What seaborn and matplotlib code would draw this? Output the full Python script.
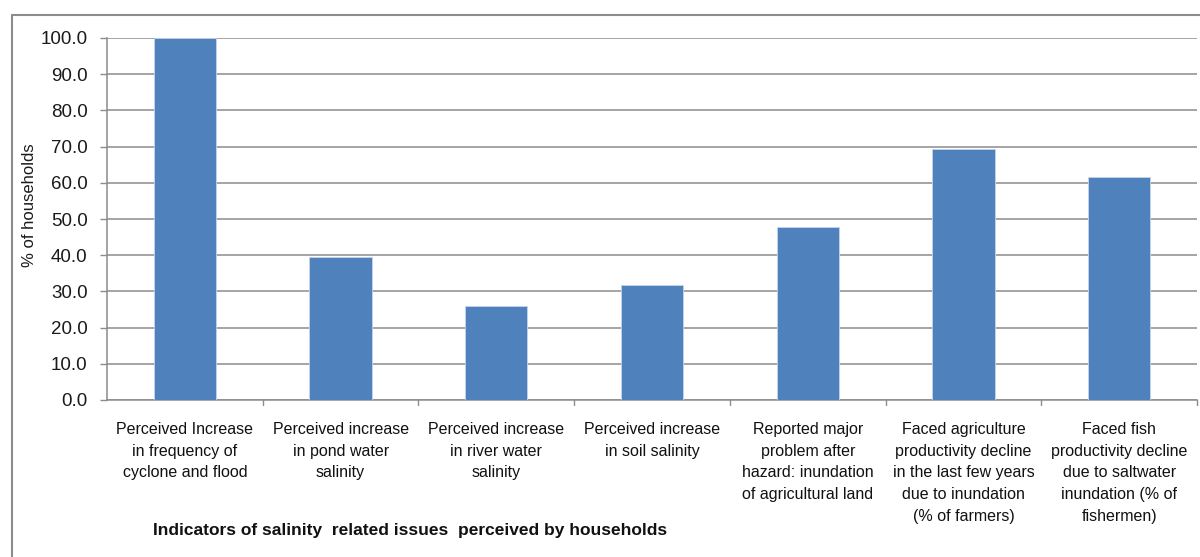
import pandas as pd
import seaborn as sns
import matplotlib.pyplot as plt
from matplotlib.lines import Line2D

# Dados
categories = [
    'Perceived Increase\nin frequency of\ncyclone and flood',
    'Perceived increase\nin pond water\nsalinity',
    'Perceived increase\nin river water\nsalinity',
    'Perceived increase\nin soil salinity',
    'Reported major\nproblem after\nhazard: inundation\nof agricultural land',
    'Faced agriculture\nproductivity decline\nin the last few years\ndue to inundation\n(% of farmers)',
    'Faced fish\nproductivity decline\ndue to saltwater\ninundation (% of\nfishermen)',
]
values = [100.0, 39.6, 26.0, 31.7, 47.8, 69.3, 61.5]
y_ticks = [0, 10, 20, 30, 40, 50, 60, 70, 80, 90, 100]

df = pd.DataFrame({'indicator': categories, 'pct': values})

sns.set_style('white')
plt.rcParams['font.family'] = ['Liberation Sans', 'DejaVu Sans']

fig = plt.figure(figsize=(12, 5.57), dpi=100)
ax = fig.add_axes([107 / 1200, 1 - 400 / 557, 1090 / 1200, 362 / 557])

sns.barplot(data=df, x='indicator', y='pct', color='#4F81BD', width=0.4,
            saturation=1, edgecolor='#C6D4E8', linewidth=0.6, ax=ax, zorder=3)

ax.set_ylim(0, 100)
ax.set_xlim(-0.5, len(categories) - 0.5)
ax.set_yticks(y_ticks)
ax.set_yticklabels([f'{t:.1f}' for t in y_ticks], fontsize=13.5, color='#1A1A1A')
ax.yaxis.grid(True, color='#8C8C8C', linewidth=1.1, zorder=0)
ax.set_axisbelow(True)

# ticks do eixo x entre as categorias
ax.set_xticks(range(len(categories)))
ax.set_xticklabels(categories, fontsize=11.5, color='#111111', linespacing=1.55)
ax.tick_params(axis='x', length=0, pad=16)
ax.tick_params(axis='y', length=5, width=1, color='#8C8C8C', direction='out', pad=9, left=True)
for i in range(len(categories)):
    ax.plot([i + 0.5, i + 0.5], [0, -1.5], color='#8C8C8C', linewidth=1,
            clip_on=False, zorder=4)

for side in ['top', 'right']:
    ax.spines[side].set_visible(False)
for side in ['left', 'bottom']:
    ax.spines[side].set_color('#8C8C8C')
    ax.spines[side].set_linewidth(1.1)

ax.set_xlabel('')
ax.set_ylabel('')
fig.text(30 / 1200, 1 - 205 / 557, '% of households', rotation=90,
         ha='center', va='center', fontsize=12, color='#1A1A1A')
fig.text(410 / 1200, 1 - 530 / 557,
         'Indicators of salinity  related issues  perceived by households',
         ha='center', va='center', fontsize=12.5, fontweight='bold', color='#111111')

# moldura do gráfico
fig.add_artist(Line2D([12 / 1200, 1], [1 - 15 / 557, 1 - 15 / 557],
                      color='#8C8C8C', linewidth=1.5, transform=fig.transFigure))
fig.add_artist(Line2D([12 / 1200, 12 / 1200], [0, 1 - 15 / 557],
                      color='#8C8C8C', linewidth=1.5, transform=fig.transFigure))

plt.savefig('out.png', dpi=100)
plt.close()
